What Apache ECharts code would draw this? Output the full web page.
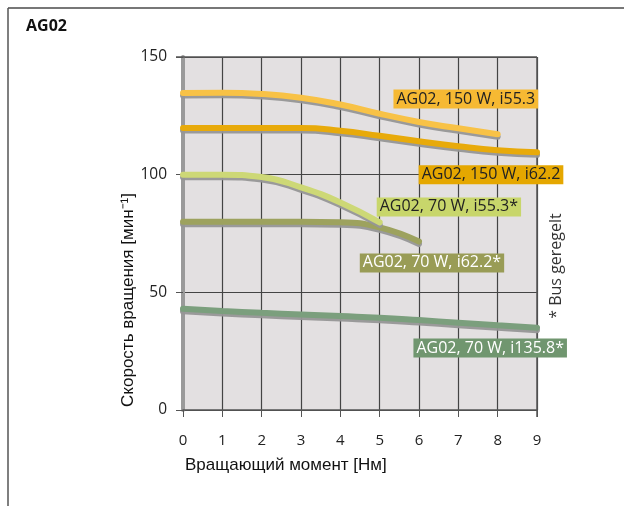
<!DOCTYPE html>
<html><head><meta charset="utf-8">
<script src="https://cdn.jsdelivr.net/npm/echarts@6/dist/echarts.min.js"></script>
<style>html,body{margin:0;padding:0;background:#fff}#c{width:624px;height:506px}</style>
</head><body><div id="c"></div>
<script>
// ---- data ----
const torque = [0, 1, 2, 3, 4, 5, 6, 7, 8, 9];
const yTicks = [0, 50, 100, 150];
const seriesNames = ['AG02, 150 W, i55.3', 'AG02, 150 W, i62.2', 'AG02, 70 W, i55.3*', 'AG02, 70 W, i62.2*', 'AG02, 70 W, i135.8*'];
const speed150_i553 = [134.7, 134.8, 134.3, 132.7, 129.8, 125.9, 122.4, 119.7, 117.2];
const speed150_i622 = [119.8, 119.8, 119.8, 119.8, 118.7, 116.5, 114.2, 112.1, 110.4, 109.5];
const speed70_i553 = [100, 100, 99.0, 94.6, 88.2, 79.7];
const speed70_i622 = [80, 80, 80, 80, 79.8, 77.6, 71.6];
const speed70_i1358 = [43, 42.1, 41.3, 40.6, 39.9, 39.2, 38.2, 37.1, 36.0, 35.0];
// label anchor positions in data units [torque, speed]
const labelAnchors = [[7.19, 132.1], [7.83, 100.0], [6.76, 86.3], [6.33, 62.5], [7.81, 26.3]];
const footnote = '* Bus geregelt';

const lineColors = ['#f8c246', '#e8aa0a', '#cdd876', '#9da25e', '#7b9f7d'];
const boxColors = ['#f6b933', '#e5a700', '#c8d66b', '#999c56', '#70966f'];
const boxText = ['#222', '#222', '#222', '#fff', '#fff'];
const allSpeeds = [speed150_i553, speed150_i622, speed70_i553, speed70_i622, speed70_i1358];

const chart = echarts.init(document.getElementById('c'), null, {renderer: 'canvas'});
const series = allSpeeds.map((vals, i) => ({
  type: 'line',
  name: seriesNames[i],
  data: vals.map((v, k) => [torque[k], v]),
  smooth: 0.5,
  showSymbol: false,
  symbol: 'none',
  z: 5 + (4 - i),
  lineStyle: {color: lineColors[i], width: 6, cap: 'round',
    shadowColor: 'rgba(150,150,150,0.95)', shadowBlur: 0, shadowOffsetY: 2.5},
  markPoint: {
    symbol: 'rect', symbolSize: 0, silent: true, z: 20,
    data: [{coord: labelAnchors[i], value: seriesNames[i]}],
    label: {show: true, position: 'inside', formatter: seriesNames[i],
      fontFamily: 'Open Sans', fontSize: 16, color: boxText[i],
      backgroundColor: boxColors[i], padding: [0, 3, 0, 3], lineHeight: 19}
  }
}));

chart.setOption({
  animation: false,
  backgroundColor: '#fff',
  grid: {left: 183, right: 87, top: 57, bottom: 96, show: true, backgroundColor: '#e3e0e1', borderWidth: 0},
  xAxis: {type: 'value', min: 0, max: 9, interval: 1,
    axisLine: {show: true, onZero: false, lineStyle: {color: '#555', width: 1.5}},
    axisTick: {show: true, length: 7, lineStyle: {color: '#555'}},
    axisLabel: {fontFamily: 'Open Sans', fontSize: 15, color: '#222', margin: 23},
    splitLine: {show: true, lineStyle: {color: '#444', width: 1.2}}
  },
  yAxis: {type: 'value', min: 0, max: 150, interval: 50,
    axisLine: {show: true, lineStyle: {color: '#9a9a9a', width: 4}},
    axisTick: {show: true, length: 7, lineStyle: {color: '#555'}},
    axisLabel: {fontFamily: 'Open Sans', fontSize: 15.5, color: '#222', margin: 16},
    splitLine: {show: true, lineStyle: {color: '#444', width: 1.2}}
  },
  graphic: [
    {type: 'line', shape: {x1: 8, y1: 8, x2: 624, y2: 8}, style: {stroke: '#777', lineWidth: 2}},
    {type: 'line', shape: {x1: 8, y1: 8, x2: 8, y2: 506}, style: {stroke: '#555', lineWidth: 1.5}},
    {type: 'line', shape: {x1: 537, y1: 57, x2: 537, y2: 417}, style: {stroke: '#555', lineWidth: 1.5}, z: 2},
    {type: 'line', shape: {x1: 176, y1: 57, x2: 537, y2: 57}, style: {stroke: '#555', lineWidth: 1.5}, z: 2},
    {type: 'text', left: 26, top: 18, style: {text: 'AG02', font: 'bold 16px "Open Sans"', fill: '#111'}},
    {type: 'text', left: 185, top: 457, style: {text: 'Вращающий момент [Нм]', font: '17px "Liberation Sans"', fill: '#111'}},
    {type: 'text', x: 128, y: 300, rotation: Math.PI / 2,
      style: {text: 'Скорость вращения [мин⁻¹]', font: '17px "Liberation Sans"', fill: '#111', align: 'center', verticalAlign: 'middle'}},
    {type: 'text', x: 556, y: 266, rotation: Math.PI / 2,
      style: {text: footnote, font: '16px "Open Sans"', fill: '#333', align: 'center', verticalAlign: 'middle'}}
  ],
  series: series
});
</script></body></html>
